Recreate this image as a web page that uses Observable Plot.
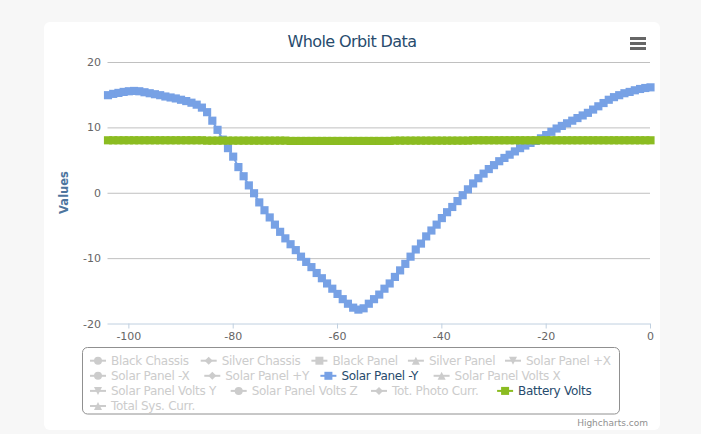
<!DOCTYPE html>
<html>
<head>
<meta charset="utf-8">
<script src="https://cdn.jsdelivr.net/npm/d3@7"></script>
<script src="https://cdn.jsdelivr.net/npm/@observablehq/plot@0.6"></script>
<style>
html,body{margin:0;padding:0;background:#f7f7f7;}
#wrap{position:relative;width:701px;height:434px;overflow:hidden;font-family:"DejaVu Sans",Verdana,sans-serif;}
#card{position:absolute;left:44px;top:22px;width:616px;height:408px;background:#fff;border-radius:6px;}
#plot{position:absolute;left:44px;top:22px;}
#overlay{position:absolute;left:0;top:0;pointer-events:none;}
</style>
</head>
<body>
<div id="wrap">
  <div id="card"></div>
  <div id="plot"></div>
  <svg id="overlay" width="701" height="434"></svg>
</div>
<script>
// ---- data ----
const title = "Whole Orbit Data";
const yLabel = "Values";
const credits = "Highcharts.com";

const seriesNames = ["Black Chassis","Silver Chassis","Black Panel","Silver Panel","Solar Panel +X",
  "Solar Panel -X","Solar Panel +Y","Solar Panel -Y","Solar Panel Volts X",
  "Solar Panel Volts Y","Solar Panel Volts Z","Tot. Photo Curr.","Battery Volts",
  "Total Sys. Curr."];
const seriesSymbols = ["circle","diamond","square","triangle","triangle-down",
  "circle","diamond","square","triangle",
  "triangle-down","circle","diamond","square",
  "triangle"];
const seriesColors = {"Solar Panel -Y": "#77a1e5", "Battery Volts": "#8bbc21"};

const minutes = [-104,-103,-102,-101,-100,-99,-98,-97,-96,-95,-94,-93,-92,-91,-90,-89,-88,-87,-86,-85,
  -84,-83,-82,-81,-80,-79,-78,-77,-76,-75,-74,-73,-72,-71,-70,-69,-68,-67,-66,-65,
  -64,-63,-62,-61,-60,-59,-58,-57,-56,-55,-54,-53,-52,-51,-50,-49,-48,-47,-46,-45,
  -44,-43,-42,-41,-40,-39,-38,-37,-36,-35,-34,-33,-32,-31,-30,-29,-28,-27,-26,-25,
  -24,-23,-22,-21,-20,-19,-18,-17,-16,-15,-14,-13,-12,-11,-10,-9,-8,-7,-6,-5,
  -4,-3,-2,-1,0];

const solarPanelMinusY = [15.0,15.2,15.35,15.5,15.6,15.65,15.6,15.45,15.3,15.15,15.0,14.8,14.65,14.5,14.3,14.1,13.85,13.55,13.1,12.4,
  11.1,9.7,8.2,6.9,5.6,4.0,2.6,1.2,0.0,-1.4,-2.6,-3.7,-4.8,-5.9,-6.9,-7.8,-8.7,-9.7,-10.5,-11.3,
  -12.2,-13.0,-13.8,-14.6,-15.4,-16.2,-16.9,-17.5,-17.8,-17.6,-16.9,-16.2,-15.5,-14.6,-13.8,-12.8,-11.8,-10.8,-9.7,-8.6,
  -7.7,-6.6,-5.7,-4.8,-3.8,-2.9,-2.1,-1.2,-0.3,0.6,1.5,2.3,3.0,3.7,4.3,4.9,5.4,5.9,6.4,6.9,
  7.3,7.7,8.0,8.4,8.9,9.4,9.9,10.3,10.7,11.1,11.5,11.9,12.3,12.8,13.3,13.8,14.3,14.7,15.0,15.3,
  15.5,15.75,15.95,16.1,16.2];

const batteryVolts = [8.1,8.1,8.1,8.1,8.1,8.1,8.1,8.1,8.1,8.1,8.1,8.1,8.1,8.1,8.1,8.1,8.1,8.1,8.1,8.05,
  8.05,8.05,8.05,8.05,8.05,8.05,8.05,8.05,8.05,8.05,8.05,8.05,8.05,8.05,8.05,8.0,8.0,8.0,8.0,8.0,
  8.0,8.0,8.0,8.0,8.0,8.0,8.0,8.0,8.0,8.0,8.0,8.0,8.0,8.0,8.0,8.05,8.05,8.05,8.05,8.05,
  8.05,8.05,8.05,8.05,8.05,8.05,8.05,8.05,8.05,8.05,8.1,8.1,8.1,8.1,8.1,8.1,8.1,8.1,8.1,8.1,
  8.1,8.1,8.1,8.1,8.1,8.1,8.1,8.1,8.1,8.1,8.1,8.1,8.1,8.1,8.1,8.1,8.1,8.1,8.1,8.1,
  8.1,8.1,8.1,8.1,8.1];

const yTicks = [-20,-10,0,10,20];
const xTicks = [-100,-80,-60,-40,-20,0];

// ---- build tables ----
const rows = [];
minutes.forEach((m,i) => {
  rows.push({series:"Solar Panel -Y", x:m, y:solarPanelMinusY[i]});
});
minutes.forEach((m,i) => {
  rows.push({series:"Battery Volts", x:m, y:batteryVolts[i]});
});
const blue = rows.filter(d => d.series === "Solar Panel -Y");
const green = rows.filter(d => d.series === "Battery Volts");

const chart = Plot.plot({
  width: 616,
  height: 322,
  marginLeft: 63.5,
  marginRight: 10,
  marginTop: 40,
  marginBottom: 20.5,
  style: {background: "transparent", fontFamily: '"DejaVu Sans", Verdana, sans-serif', overflow: "visible"},
  x: {domain: [-104, 0]},
  y: {domain: [-20, 20]},
  marks: [
    Plot.gridY(yTicks.filter(t => t !== -20), {stroke: "#c0c0c0", strokeOpacity: 1}),
    Plot.ruleY([-20], {stroke: "#c0d0e0"}),
    Plot.axisY(yTicks, {tickSize: 0, tickPadding: 7, fontSize: 11, fill: "#666", label: null, tickFormat: d => String(d)}),
    Plot.axisX(xTicks, {tickSize: 5, tickPadding: 3, fontSize: 11, fill: "#666", stroke: "#c0d0e0", label: null, tickFormat: d => String(d)}),
    Plot.line(blue, {x: "x", y: "y", stroke: seriesColors["Solar Panel -Y"], strokeWidth: 2}),
    Plot.dot(blue, {x: "x", y: "y", symbol: "square", r: 4.6, fill: seriesColors["Solar Panel -Y"], stroke: "none"}),
    Plot.line(green, {x: "x", y: "y", stroke: seriesColors["Battery Volts"], strokeWidth: 2}),
    Plot.dot(green, {x: "x", y: "y", symbol: "square", r: 4.6, fill: seriesColors["Battery Volts"], stroke: "none"})
  ]
});
document.getElementById("plot").appendChild(chart);

// ---- overlay: title, menu, y label, legend, credits ----
const ov = d3.select("#overlay");
const font = '"DejaVu Sans", Verdana, sans-serif';

ov.append("text").attr("x", 352).attr("y", 47).attr("text-anchor", "middle")
  .attr("font-family", font).attr("font-size", 16).attr("letter-spacing", "-0.6px")
  .attr("fill", "#274b6d").text(title);

// export menu icon
const menu = ov.append("g").attr("stroke", "#666").attr("stroke-width", 3);
[38.5, 43.5, 48.5].forEach(yy => menu.append("line").attr("x1", 630).attr("x2", 646).attr("y1", yy).attr("y2", yy));

ov.append("text").attr("transform", "translate(68,192.5) rotate(-90)").attr("text-anchor", "middle")
  .attr("font-family", font).attr("font-size", 11.5).attr("font-weight", "bold")
  .attr("fill", "#4d759e").text(yLabel);

// legend box
ov.append("rect").attr("x", 82.5).attr("y", 347.5).attr("width", 537).attr("height", 66.5)
  .attr("rx", 5).attr("fill", "none").attr("stroke", "#909090").attr("stroke-width", 1);

const legendLayout = [[90,0],[200.7,0],[311.4,0],[407.9,0],[505,0],
  [90,1],[204.3,1],[320.4,1],[433.6,1],
  [90,2],[230.7,2],[371,2],[497.1,2],
  [90,3]];
const rowY = [360.7, 375.8, 390.9, 406];

function symbolPath(kind, cx, cy) {
  const r = 4;
  switch (kind) {
    case "circle": return `M${cx-r},${cy}a${r},${r} 0 1,0 ${2*r},0a${r},${r} 0 1,0 ${-2*r},0Z`;
    case "square": return `M${cx-r},${cy-r}h${2*r}v${2*r}h${-2*r}Z`;
    case "diamond": return `M${cx},${cy-r}L${cx+r},${cy}L${cx},${cy+r}L${cx-r},${cy}Z`;
    case "triangle": return `M${cx},${cy-r}L${cx+r},${cy+r}L${cx-r},${cy+r}Z`;
    case "triangle-down": return `M${cx-r},${cy-r}L${cx+r},${cy-r}L${cx},${cy+r}Z`;
  }
}

seriesNames.forEach((name, i) => {
  const [lx, row] = legendLayout[i];
  const cy = rowY[row];
  const visible = name in seriesColors;
  const c = visible ? seriesColors[name] : "#ccc";
  const g = ov.append("g");
  g.append("line").attr("x1", lx).attr("x2", lx + 16).attr("y1", cy).attr("y2", cy)
    .attr("stroke", c).attr("stroke-width", 2);
  g.append("path").attr("d", symbolPath(seriesSymbols[i], lx + 8, cy)).attr("fill", c);
  g.append("text").attr("x", lx + 21).attr("y", cy + 4.3)
    .attr("font-family", font).attr("font-size", 12).attr("letter-spacing", "-0.3px")
    .attr("fill", visible ? "#274b6d" : "#ccc").text(name);
});

ov.append("text").attr("x", 648).attr("y", 425.5).attr("text-anchor", "end")
  .attr("font-family", font).attr("font-size", 9).attr("fill", "#909090").text(credits);
</script>
</body>
</html>
